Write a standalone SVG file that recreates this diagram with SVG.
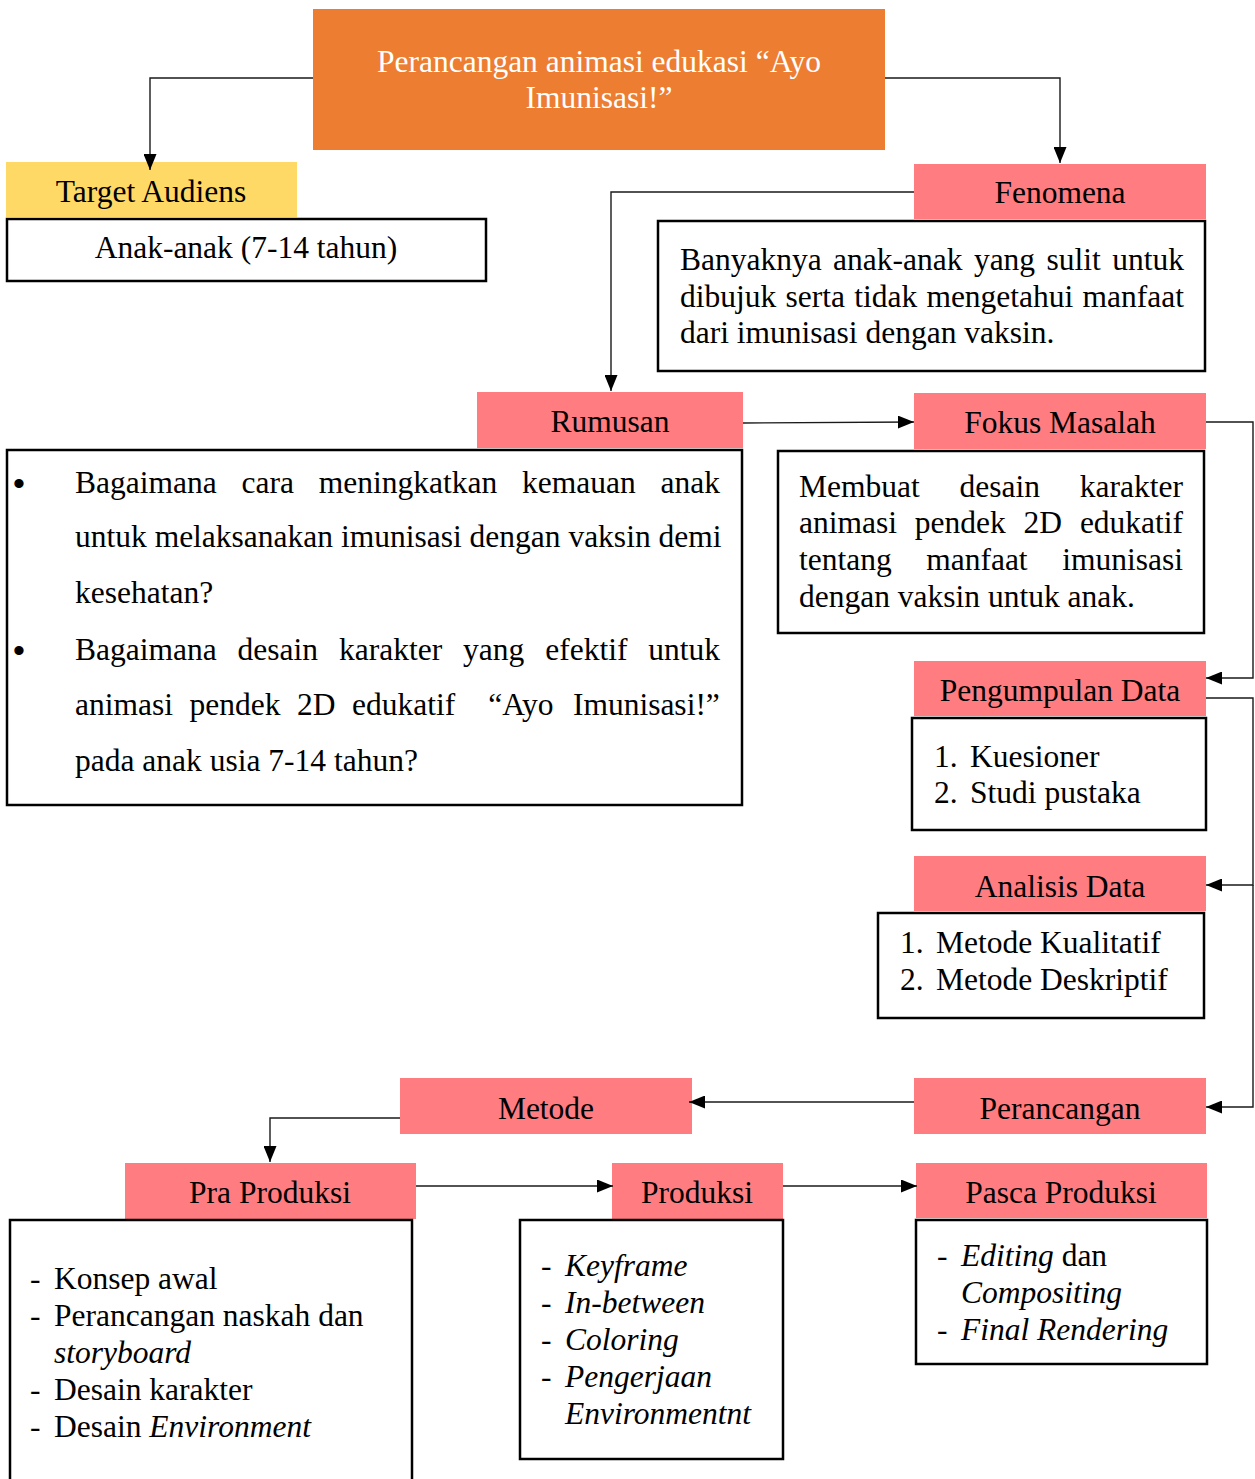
<svg xmlns="http://www.w3.org/2000/svg" width="1255" height="1479" viewBox="0 0 1255 1479">
<style>
text{font-family:"Liberation Serif","Times New Roman",serif;font-size:31.5px;fill:#000}
.c{text-anchor:middle}
.w{fill:#fff}
.i{font-style:italic}
.bul{font-family:"Liberation Sans",Arial,sans-serif;font-size:34px}
.box{fill:#fff;stroke:#000;stroke-width:2.5}
.pink{fill:#FF7C80}
.conn path{fill:none;stroke:#1a1a1a;stroke-width:1.4}
</style>
<defs>
<marker id="ah" markerUnits="userSpaceOnUse" viewBox="0 0 16 13" refX="16" refY="6.5" markerWidth="16" markerHeight="13" orient="auto">
<path d="M0,0 L16,6.5 L0,13 z" fill="#000"/>
</marker>
</defs>
<rect width="1255" height="1479" fill="#fff"/>

<g id="title">
<rect x="313" y="9" width="572" height="141" fill="#ED7D31"/>
<text class="c w" x="599" y="72">Perancangan animasi edukasi “Ayo</text>
<text class="c w" x="599" y="108">Imunisasi!”</text>
</g>

<g id="target">
<rect x="6" y="162" width="291" height="55" fill="#FFD966"/>
<text class="c" x="151" y="202">Target Audiens</text>
<rect class="box" x="7" y="219" width="479" height="62"/>
<text class="c" x="246" y="258">Anak-anak (7-14 tahun)</text>
</g>

<g id="fenomena">
<rect class="pink" x="914" y="164" width="292" height="55"/>
<text class="c" x="1060" y="203">Fenomena</text>
<rect class="box" x="658" y="221" width="547" height="150"/>
<text y="270"><tspan x="680">Banyaknya</tspan><tspan x="833.1">anak-anak</tspan><tspan x="973.9">yang</tspan><tspan x="1046.5">sulit</tspan><tspan x="1112.2">untuk</tspan></text>
<text y="307"><tspan x="680">dibujuk</tspan><tspan x="785.5">serta</tspan><tspan x="854.2">tidak</tspan><tspan x="926.4">mengetahui</tspan><tspan x="1082.6">manfaat</tspan></text>
<text x="680" y="343">dari imunisasi dengan vaksin.</text>
</g>

<g id="rumusan">
<rect class="pink" x="477" y="392" width="266" height="56"/>
<text class="c" x="610" y="432">Rumusan</text>
<rect class="box" x="7" y="450" width="735" height="355"/>
<text class="bul" x="13" y="495">•</text>
<text y="493"><tspan x="75">Bagaimana</tspan><tspan x="241.5">cara</tspan><tspan x="318.7">meningkatkan</tspan><tspan x="522">kemauan</tspan><tspan x="660.5">anak</tspan></text>
<text x="75" y="547">untuk melaksanakan imunisasi dengan vaksin demi</text>
<text x="75" y="603">kesehatan?</text>
<text class="bul" x="13" y="662">•</text>
<text y="660"><tspan x="75">Bagaimana</tspan><tspan x="237.6">desain</tspan><tspan x="339">karakter</tspan><tspan x="463.1">yang</tspan><tspan x="545.2">efektif</tspan><tspan x="648.3">untuk</tspan></text>
<text y="715"><tspan x="75">animasi</tspan><tspan x="189.5">pendek</tspan><tspan x="297">2D</tspan><tspan x="352">edukatif</tspan><tspan x="488.2">“Ayo</tspan><tspan x="572.9">Imunisasi!”</tspan></text>
<text x="75" y="771">pada anak usia 7-14 tahun?</text>
</g>

<g id="fokus">
<rect class="pink" x="914" y="393" width="292" height="56"/>
<text class="c" x="1060" y="433">Fokus Masalah</text>
<rect class="box" x="778" y="451" width="426" height="182"/>
<text y="497"><tspan x="799">Membuat</tspan><tspan x="959.5">desain</tspan><tspan x="1079.8">karakter</tspan></text>
<text y="533"><tspan x="799">animasi</tspan><tspan x="914.8">pendek</tspan><tspan x="1023.6">2D</tspan><tspan x="1079.9">edukatif</tspan></text>
<text y="570"><tspan x="799">tentang</tspan><tspan x="926.2">manfaat</tspan><tspan x="1062.2">imunisasi</tspan></text>
<text x="799" y="607">dengan vaksin untuk anak.</text>
</g>

<g id="pengumpulan">
<rect class="pink" x="914" y="661" width="292" height="55"/>
<text class="c" x="1060" y="701">Pengumpulan Data</text>
<rect class="box" x="912" y="718" width="294" height="112"/>
<text x="934" y="767">1.</text><text x="970" y="767">Kuesioner</text>
<text x="934" y="803">2.</text><text x="970" y="803">Studi pustaka</text>
</g>

<g id="analisis">
<rect class="pink" x="914" y="856" width="292" height="55"/>
<text class="c" x="1060" y="897">Analisis Data</text>
<rect class="box" x="878" y="913" width="326" height="105"/>
<text x="900" y="953">1.</text><text x="936" y="953">Metode Kualitatif</text>
<text x="900" y="990">2.</text><text x="936" y="990">Metode Deskriptif</text>
</g>

<g id="perancangan">
<rect class="pink" x="914" y="1078" width="292" height="56"/>
<text class="c" x="1060" y="1119">Perancangan</text>
</g>

<g id="metode">
<rect class="pink" x="400" y="1078" width="292" height="56"/>
<text class="c" x="546" y="1119">Metode</text>
</g>

<g id="praproduksi">
<rect class="pink" x="125" y="1163" width="291" height="56"/>
<text class="c" x="270" y="1203">Pra Produksi</text>
<rect class="box" x="10" y="1220" width="402" height="280"/>
<text x="30" y="1289">-</text><text x="54" y="1289">Konsep awal</text>
<text x="30" y="1326">-</text><text x="54" y="1326">Perancangan naskah dan</text>
<text class="i" x="54" y="1363">storyboard</text>
<text x="30" y="1400">-</text><text x="54" y="1400">Desain karakter</text>
<text x="30" y="1437">-</text><text x="54" y="1437">Desain <tspan class="i">Environment</tspan></text>
</g>

<g id="produksi">
<rect class="pink" x="612" y="1163" width="171" height="56"/>
<text class="c" x="697" y="1203">Produksi</text>
<rect class="box" x="520" y="1220" width="263" height="239"/>
<text x="541" y="1276">-</text><text class="i" x="565" y="1276">Keyframe</text>
<text x="541" y="1313">-</text><text class="i" x="565" y="1313">In-between</text>
<text x="541" y="1350">-</text><text class="i" x="565" y="1350">Coloring</text>
<text x="541" y="1387">-</text><text class="i" x="565" y="1387">Pengerjaan</text>
<text class="i" x="565" y="1424">Environmentnt</text>
</g>

<g id="pascaproduksi">
<rect class="pink" x="916" y="1163" width="291" height="55"/>
<text class="c" x="1061" y="1203">Pasca Produksi</text>
<rect class="box" x="916" y="1220" width="291" height="144"/>
<text x="937" y="1266">-</text><text x="961" y="1266"><tspan class="i">Editing</tspan> dan</text>
<text class="i" x="961" y="1303">Compositing</text>
<text x="937" y="1340">-</text><text class="i" x="961" y="1340">Final Rendering</text>
</g>

<g class="conn">
<path d="M313,78 H150 V170" marker-end="url(#ah)"/>
<path d="M885,78 H1060 V163" marker-end="url(#ah)"/>
<path d="M914,192 H611 V391" marker-end="url(#ah)"/>
<path d="M743,423 L914,422" marker-end="url(#ah)"/>
<path d="M1206,422 H1253 V678 H1206" marker-end="url(#ah)"/>
<path d="M1206,698 H1253 V885 H1206" marker-end="url(#ah)"/>
<path d="M1253,885 V1107 H1206" marker-end="url(#ah)"/>
<path d="M914,1102 H689" marker-end="url(#ah)"/>
<path d="M400,1118 H270 V1162" marker-end="url(#ah)"/>
<path d="M416,1186 H613" marker-end="url(#ah)"/>
<path d="M783,1186 H917" marker-end="url(#ah)"/>
</g>
</svg>
